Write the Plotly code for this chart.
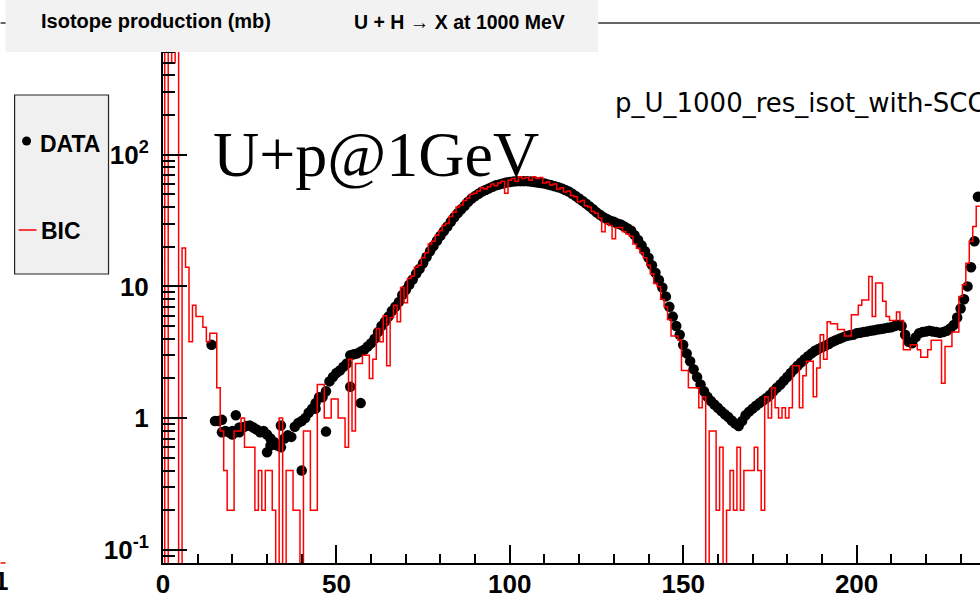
import numpy as np
import plotly.graph_objects as go

# ---------------------------------------------------------------
# Isotope production cross sections, U + p at 1 GeV
# x: mass number A, y: cross section (mb)
# ---------------------------------------------------------------

# BIC model histogram, one bin per mass number (A = 0 .. 235)
bic_A = list(range(0, 236))
bic_mb = [
    1500, 0, 1500, 500, 1500, 0, 19.6, 14, 3.8, 7.2,
    5.9, 5.9, 4.9, 3.8, 4.4, 4.4, 1.7, 0.8, 0.4, 0.2,
    0.2, 0.8, 0.8, 1.0, 0.6, 0.6, 0.6, 0.2, 0.4, 0.2,
    0.4, 0.4, 0.2, 0, 1.0, 0, 0.4, 0.4, 0.2, 0.2,
    0, 0.8, 0.8, 0.2, 0.2, 1.8, 1.8, 1.0, 1.0, 1.4,
    1.4, 1.0, 1.0, 0.6, 2.8, 0.8, 2.6, 2.6, 3.0, 3.0,
    2.0, 2.8, 4.8, 3.8, 6.0, 2.5, 5.8, 7.2, 5.4, 9.8,
    7.5, 11.5, 12.0, 14.0, 14.5, 16.5, 18.0, 21.0, 22.0, 24.5,
    26.5, 29.0, 30.0, 34.0, 36.5, 40.0, 41.5, 45.0, 47.0, 50.0,
    51.0, 53.0, 56.0, 55.0, 57.0, 60.0, 58.0, 61.0, 63.0, 51.0,
    64, 66, 63, 68, 66, 67, 64, 68, 66, 67,
    61, 62, 59, 60, 55, 56, 52, 53, 49, 48,
    44, 45, 41, 40, 37, 36, 33, 26, 30, 29,
    23, 28, 28, 26, 25, 24, 21, 19.5, 18, 16.5,
    14.5, 12.5, 10.5, 10.0, 8.0, 7.0, 5.6, 4.2, 4.2, 3.9,
    2.3, 2.3, 1.7, 1.7, 1.7, 1.2, 1.45, 0, 0.8, 0.8,
    0.2, 0.6, 0, 0.2, 0.4, 0.2, 0.6, 0.2, 0.4, 0.4,
    0.4, 0.6, 0.4, 0.2, 1.45, 1.0, 1.7, 1.2, 1.0, 1.2,
    1.0, 1.2, 2.5, 2.5, 1.2, 2.1, 2.7, 2.7, 1.45, 2.4,
    4.3, 2.8, 5.4, 5.2, 5.2, 4.7, 4.7, 4.2, 4.2, 6.1,
    6.1, 7.2, 7.9, 7.9, 11.9, 5.9, 10.6, 10.6, 7.7, 5.9,
    5.5, 5.5, 6.4, 5.5, 3.3, 3.3, 3.6, 3.6, 3.3, 2.9,
    2.9, 3.3, 3.9, 3.9, 3.9, 1.84, 3.5, 3.5, 4.5, 4.5,
    8.4, 10.3, 15, 22, 28.5, 40.6,
]

# Measured data, one point per mass number (A = 14 .. 235)
data_A = list(range(14, 236))
data_mb = [
    3.6, 0.95, 0.95, 0.97, 0.80, 0.78, 0.80, 1.05, 0.78, 0.85,
    0.87, 0.88, 0.85, 0.82, 0.78, 0.80, 0.75, 0.70, 0.66, 0.62,
    0.60, 0.70, 0.74, 0.72, 0.86, 0.92, 0.95, 1.00, 1.10, 1.18,
    1.30, 1.44, 1.44, 1.60, 1.90, 2.05, 2.20, 2.30, 2.45, 2.60,
    3.00, 3.05, 3.10, 3.20, 3.30, 3.50, 3.70, 4.00, 4.50, 5.00,
    5.40, 5.90, 6.50, 7.00, 7.60, 8.60, 9.40, 10.3, 11.3, 12.5,
    13.6, 15.0, 16.7, 18.5, 20.3, 22.2, 24.2, 26.3, 28.5, 31.0,
    33.5, 36.0, 38.5, 41.0, 44.0, 46.5, 48.5, 50.5, 52.5, 54.0,
    55.5, 57.0, 58.5, 59.5, 60.5, 61.5, 62.0, 62.5, 63.0, 63.0,
    63.0, 63.0, 62.5, 62.0, 61.5, 61.0, 60.5, 59.5, 58.5, 57.5,
    56.5, 55.5, 54.0, 52.5, 50.5, 48.5, 46.5, 44.5, 42.5, 40.5,
    38.5, 36.5, 35.0, 33.5, 32.5, 31.5, 31.0, 30.0, 29.5, 28.5,
    27.5, 26.5, 24.5, 22.5, 20.5, 18.5, 16.5, 14.5, 12.7, 11.2,
    9.8, 8.4, 7.0, 5.9, 5.0, 4.3, 3.6, 3.1, 2.7, 2.35,
    2.05, 1.80, 1.60, 1.45, 1.35, 1.27, 1.20, 1.13, 1.07, 1.02,
    0.96, 0.91, 0.87, 0.95, 1.05, 1.12, 1.18, 1.24, 1.30, 1.36,
    1.42, 1.50, 1.60, 1.70, 1.80, 1.92, 2.05, 2.20, 2.35, 2.50,
    2.65, 2.80, 2.95, 3.10, 3.25, 3.35, 3.45, 3.55, 3.65, 3.80,
    3.90, 4.00, 4.10, 4.20, 4.25, 4.30, 4.40, 4.45, 4.50, 4.55,
    4.60, 4.65, 4.70, 4.75, 4.80, 4.85, 4.90, 5.00, 5.10, 5.00,
    4.30, 3.80, 3.70, 4.10, 4.40, 4.50, 4.55, 4.60, 4.55, 4.50,
    4.45, 4.50, 4.60, 4.80, 5.10, 5.80, 6.80, 8.00, 10.0, 14.0,
    22.0, 48.0,
]

# Additional measured points (second data set in the light-fragment region)
extra_A = [17, 20, 22, 30, 31, 34, 40, 44, 47, 54, 57]
extra_mb = [0.78, 0.75, 0.85, 0.55, 0.62, 0.88, 0.40, 1.18, 0.79, 1.73, 1.30]

x_ticks = [0, 50, 100, 150, 200]
y_ticks = [0.1, 1, 10, 100]
y_ticktext = ["10<sup>-1</sup>", "1", "10", "10<sup>2</sup>"]

# ---------------------------------------------------------------
SANS = "Liberation Sans, Arial, sans-serif"
W, H = 980, 595
L, T, B = 162.5, 23, 32
PW, PH = W - L, H - T - B


def px(x):
    return (x - L) / PW


def py(y):
    return (H - B - y) / PH


# histogram outline: bin edges at A +/- 0.5, empty bins pushed below the axis
bic = np.asarray(bic_mb, dtype=float)
bic = np.where(bic > 0, bic, 1e-3)
edges = np.asarray(bic_A, dtype=float) - 0.5
step_x = np.append(edges, edges[-1] + 1.0)
step_y = np.append(bic, bic[-1])

fig = go.Figure()
fig.add_trace(go.Scatter(
    x=list(data_A) + extra_A, y=list(data_mb) + extra_mb,
    mode="markers", name="DATA", showlegend=False,
    marker=dict(color="black", size=10.5, line=dict(width=0)),
))
fig.add_trace(go.Scatter(
    x=step_x, y=step_y, mode="lines", name="BIC", showlegend=False,
    line=dict(color="#ff0000", width=1.5, shape="hv"),
))

y_minor = [k * 10.0 ** e for e in (-2, -1, 0, 1, 2) for k in range(2, 10)]

fig.update_xaxes(
    range=[0, PW / 3.47], automargin=False,
    showline=True, linecolor="black", linewidth=2,
    ticks="inside", ticklen=18, tickwidth=1.5, tickcolor="black",
    tickmode="array", tickvals=x_ticks,
    minor=dict(ticks="inside", ticklen=9, tickwidth=1.5, tickcolor="black",
               dtick=10, tick0=0),
    showgrid=False, zeroline=False,
    tickfont=dict(family=SANS, size=26, color="black", weight="bold"),
    ticklabelstandoff=-3,
)
fig.update_yaxes(
    type="log", range=[-1.1, 3.0], automargin=False,
    showline=True, linecolor="black",
    linewidth=2, ticks="inside", ticklen=24, tickwidth=1.5,
    tickcolor="black", tickmode="array", tickvals=y_ticks,
    ticktext=y_ticktext,
    minor=dict(ticks="inside", ticklen=12, tickwidth=1.5, tickcolor="black",
               tickmode="array", tickvals=y_minor),
    showgrid=False, zeroline=False,
    tickfont=dict(family=SANS, size=26, color="black", weight="bold"),
    ticklabelstandoff=7,
)

shapes = [
    # frame top line
    dict(type="line", xref="paper", yref="paper", x0=px(0), x1=px(W),
         y0=py(23), y1=py(23), line=dict(color="#333333", width=1.5),
         layer="above"),
    # title box
    dict(type="rect", xref="paper", yref="paper", x0=px(5), x1=px(598),
         y0=py(52), y1=py(0), fillcolor="#f2f2f2", line=dict(width=0),
         layer="above"),
    # legend box
    dict(type="rect", xref="paper", yref="paper", x0=px(14), x1=px(108),
         y0=py(274), y1=py(95), fillcolor="#f0f0f0",
         line=dict(color="#222222", width=1.2), layer="above"),
    dict(type="circle", xref="paper", yref="paper",
         x0=px(21.5), x1=px(30.5), y0=py(145.5), y1=py(136.5),
         fillcolor="black", line=dict(width=0), layer="above"),
    dict(type="line", xref="paper", yref="paper", x0=px(18), x1=px(36),
         y0=py(230), y1=py(230), line=dict(color="#ff0000", width=1.5),
         layer="above"),
    # neighbouring pad edge
    dict(type="line", xref="paper", yref="paper", x0=px(0), x1=px(5),
         y0=py(563), y1=py(563), line=dict(color="#ff0000", width=1.5),
         layer="above"),
]


def label(text, x, y, size, family=SANS, weight="bold", xanchor="left"):
    return dict(text=text, x=px(x), y=py(y), xref="paper", yref="paper",
                xanchor=xanchor, yanchor="middle", showarrow=False,
                font=dict(family=family, size=size, color="black",
                          weight=weight))


annotations = [
    label("Isotope production (mb)", 155, 21, 20, xanchor="center"),
    label("U + H \u2192 X at 1000 MeV", 459, 21.5, 19.5, xanchor="center"),
    label("DATA", 37, 144, 23),
    label("BIC", 38, 231, 23),
    label("U+p@1GeV", 211, 154.7, 64,
          family="Liberation Serif, Times New Roman, serif", weight="normal"),
    label("p_U_1000_res_isot_with-SCC", 613, 103, 26,
          family="DejaVu Sans, Verdana, sans-serif", weight="normal"),
    label("1", 9, 581, 26, xanchor="right"),
]

fig.update_layout(
    width=W, height=H,
    margin=dict(l=L, r=0, t=T, b=B, pad=0),
    plot_bgcolor="white", paper_bgcolor="white",
    shapes=shapes, annotations=annotations, showlegend=False,
)

fig.write_html("out.html")
